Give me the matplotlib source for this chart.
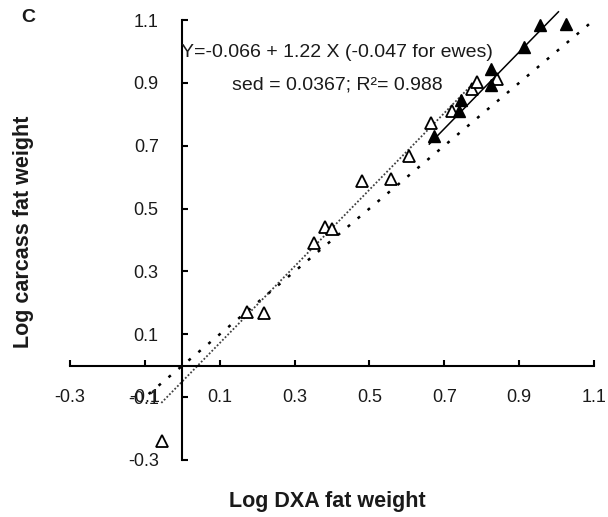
import matplotlib.pyplot as plt
import numpy as np

plt.rcParams['font.family'] = ['Liberation Sans', 'DejaVu Sans']

# open triangles (ewes)
ewes_x = [-0.053, 0.173, 0.219, 0.352, 0.381, 0.400, 0.480, 0.557, 0.605,
          0.664, 0.720, 0.773, 0.787, 0.840]
ewes_y = [-0.240, 0.171, 0.168, 0.392, 0.442, 0.436, 0.588, 0.594, 0.667,
          0.771, 0.809, 0.881, 0.904, 0.913]

# filled triangles (rams)
rams_x = [0.672, 0.739, 0.744, 0.824, 0.824, 0.912, 0.957, 1.024]
rams_y = [0.730, 0.809, 0.847, 0.945, 0.894, 1.014, 1.084, 1.087]

# fitted lines: intercept, slope, x range
slope = 1.22
ewes_int, ewes_range = -0.05, [-0.056, 0.79]
rams_int, rams_range = -0.10, [0.66, 1.005]
ident_range = [-0.09, 1.1]

ticks = [-0.3, -0.1, 0.1, 0.3, 0.5, 0.7, 0.9, 1.1]

fig = plt.figure(figsize=(6.08, 5.17), dpi=100)
ax = fig.add_axes([70/608, 1-460/517, 524/608, 440/517])

ix = np.array(ident_range)
ax.plot(ix, ix, color='black', lw=1.8, ls=(0, (1.2, 4)), clip_on=False)
ex = np.array(ewes_range)
ax.plot(ex, ewes_int + slope*ex, color='0.25', lw=1.3, ls=(0, (1, 1.1)), clip_on=False)
rx = np.array(rams_range)
ax.plot(rx, rams_int + slope*rx, color='black', lw=1.1, clip_on=False)

ax.plot(ewes_x, ewes_y, ls='none', marker='^', ms=8, mfc='white', mec='black',
        mew=1.3, clip_on=False)
ax.plot(rams_x, rams_y, ls='none', marker='^', ms=8.5, mfc='black', mec='black',
        clip_on=False)

ax.set_xlim(-0.3, 1.1)
ax.set_ylim(-0.3, 1.1)
ax.spines['left'].set_position(('data', 0))
ax.spines['bottom'].set_position(('data', 0))
ax.spines['top'].set_visible(False)
ax.spines['right'].set_visible(False)
for s in ['left', 'bottom']:
    ax.spines[s].set_linewidth(1.5)
ax.set_xticks(ticks)
ax.set_yticks(ticks)
ax.set_xticklabels([f'{t:.1f}' for t in ticks])
ax.set_yticklabels([f'{t:.1f}' for t in ticks])
ax.tick_params(axis='x', direction='in', length=4, width=1.5, pad=17, labelsize=13,
               labelcolor='#1a1a1a')
ax.tick_params(axis='y', direction='in', length=4, width=1.5, pad=17, labelsize=13,
               labelcolor='#1a1a1a')

ax.text(0.413, 0.998, 'Y=-0.066 + 1.22 X (-0.047 for ewes)', ha='center', va='center',
        fontsize=14, color='#1a1a1a')
ax.text(0.413, 0.894, 'sed = 0.0367; R²= 0.988', ha='center', va='center',
        fontsize=14, color='#1a1a1a')

fig.text(327/608, 1-502/517, 'Log DXA fat weight', ha='center', va='center',
         fontsize=15.5, fontweight='bold', color='#1a1a1a')
fig.text(24/608, 1-232/517, 'Log carcass fat weight', ha='center', va='center',
         rotation=90, fontsize=15.5, fontweight='bold', color='#1a1a1a')
fig.text(28/608, 1-17/517, 'C', ha='center', va='center', fontsize=14,
         fontweight='bold', color='#1a1a1a')

fig.savefig('out.png', dpi=100)
